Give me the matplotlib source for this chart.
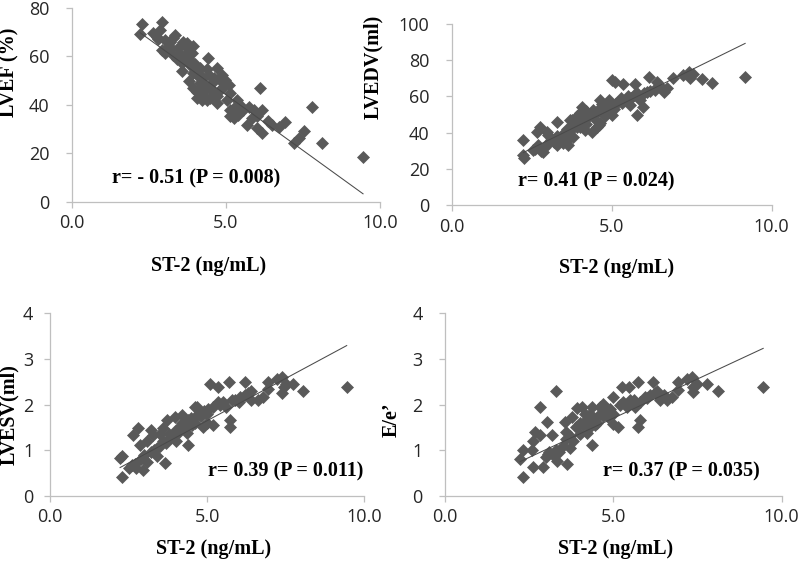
import numpy as np
import matplotlib.pyplot as plt

# ST-2 vs echo parameters
ef_x = [2.27, 2.22, 2.87, 2.92, 2.65, 2.76, 2.92, 3.03, 3.03, 3.08, 3.14, 3.19, 3.3, 3.3, 3.36, 3.41,
        3.46, 3.57, 3.57, 3.62, 3.68, 3.68, 3.73, 3.79, 3.84, 3.9, 3.95, 3.95, 3.95, 4.06, 4.06, 4.11,
        4.17, 4.17, 4.22, 4.22, 4.27, 4.33, 4.38, 4.38, 4.43, 4.44, 4.49, 4.55, 4.6, 4.6, 4.71, 4.71,
        4.71, 4.82, 4.82, 4.87, 4.92, 4.98, 5.03, 5.09, 5.14, 5.14, 5.14, 5.25, 5.3, 5.36, 5.36, 5.41,
        5.46, 5.57, 5.68, 5.74, 5.85, 5.9, 6.0, 6.0, 6.11, 6.17, 6.17, 6.38, 6.49, 6.71, 6.93, 7.2,
        7.36, 7.52, 7.79, 8.12, 9.45, 3.5, 3.6, 3.8, 4.0, 4.1, 4.3, 4.5, 3.85, 3.2, 2.8]
ef_y = [73.3, 69.2, 71, 74.4, 69.6, 68.2, 62.7, 61.3, 66.8, 62.7, 64.1, 66.1, 67.5, 60.4, 69, 59,
        63.4, 57.2, 54, 66.1, 64.1, 60.6, 65.5, 49.8, 56.6, 61.3, 64.1, 53.2, 47.1, 45.5, 42.7, 51.8,
        55.3, 49, 42, 44.4, 51.1, 46.2, 54.6, 42, 59.2, 52.3, 43, 49, 45.1, 51.1, 55.1, 43.7,
        40.7, 50.3, 46.2, 52.3, 47.5, 50.3, 42, 48.2, 44.7, 38, 35.2, 34.6, 39.3, 42, 36.6, 35.9,
        40, 37.9, 31.7, 39.3, 34.6, 38, 30.5, 35.2, 47.1, 37.9, 28.3, 33.5, 31.7, 31, 33, 24.1,
        26.4, 29.2, 39.3, 24.1, 18.3, 61, 58, 59, 57, 53, 48, 47, 62, 63, 67]

edv_x = [2.24, 2.26, 2.24, 2.55, 2.66, 2.76, 2.86, 2.97, 3.02, 3.28, 3.49, 3.64, 3.49, 3.7, 3.75, 3.8,
         3.91, 4.01, 4.06, 4.17, 4.27, 4.38, 4.43, 4.53, 4.64, 4.64, 4.85, 4.9, 5.06, 5.0, 5.1, 5.36,
         5.73, 6.18, 6.41, 5.31, 5.57, 5.78, 5.78, 5.89, 5.99, 6.1, 6.36, 6.62, 6.72, 6.93, 7.24, 7.4,
         7.45, 7.55, 7.81, 8.12, 9.17, 2.6, 2.7, 2.8, 2.9, 3.0, 3.1, 3.2, 3.3, 3.4, 3.5, 3.6, 3.7,
         3.8, 3.9, 4.0, 4.0, 4.1, 4.2, 4.2, 4.3, 4.4, 4.5, 4.5, 4.6, 4.7, 4.7, 4.8, 4.9, 5.0, 5.1,
         5.2, 5.3, 5.4, 5.5, 5.6, 5.7, 5.8, 6.0, 6.2, 6.4, 6.6, 3.3, 3.6, 4.2, 4.0, 3.9, 4.6, 5.0]
edv_y = [27.6, 26, 35.9, 30.5, 40.5, 43.3, 29.4, 40.5, 38.7, 46, 34, 33, 38.7, 46.9, 47, 37.8,
         43.3, 50.6, 54.3, 41.4, 48.8, 40.5, 52.4, 43, 45.1, 58, 52.4, 58, 53.3, 69, 68, 67,
         67, 70.5, 68.1, 56.2, 55.3, 50, 61.7, 58, 54.3, 62.6, 63.5, 62.6, 64.4, 70, 71.8, 73.7,
         70, 72.4, 69.6, 67.6, 70.5, 31, 33, 30, 32, 34, 36, 35, 38, 37, 40, 42, 41,
         44, 45, 46, 43, 47, 48, 45, 50, 49, 51, 47, 53, 52, 56, 49, 55, 54, 56,
         57, 59, 58, 60, 59, 61, 60, 62, 63, 65, 64, 33, 36, 52, 51, 49, 44, 50]

esv_x = [2.28, 2.23, 2.28, 2.65, 2.81, 2.6, 2.75, 2.97, 2.86, 3.08, 3.29, 3.4, 3.66, 3.61, 3.71, 3.82,
         3.98, 4.14, 4.19, 4.35, 4.4, 4.51, 4.67, 4.77, 4.88, 5.04, 5.09, 5.36, 5.2, 5.36, 5.73, 5.73,
         5.7, 5.89, 6.04, 6.2, 6.3, 6.41, 6.62, 6.78, 6.94, 6.94, 7.21, 7.37, 7.43, 7.37, 7.52, 7.73,
         8.06, 9.44, 2.9, 3.0, 3.1, 3.2, 3.3, 3.4, 3.5, 3.6, 3.7, 3.8, 3.9, 4.0, 4.1, 4.2, 4.3,
         4.4, 4.5, 4.6, 4.7, 4.8, 4.9, 5.0, 5.2, 5.4, 5.5, 5.6, 5.8, 6.0, 6.2, 6.4, 3.2, 2.5, 2.7,
         3.5, 4.0, 4.6, 5.0]
esv_y = [0.42, 0.82, 0.87, 1.33, 1.48, 0.67, 0.6, 0.56, 1.11, 1.2, 1.33, 0.86, 0.71, 1.48, 1.66, 1.26,
         1.73, 1.51, 1.77, 1.37, 1.11, 1.55, 1.95, 1.77, 1.51, 1.91, 2.46, 2.39, 1.55, 2.06, 1.51, 1.66,
         2.5, 2.1, 2.17, 2.5, 2.25, 2.1, 2.1, 2.17, 2.35, 2.5, 2.57, 2.61, 2.39, 2.25, 2.46, 2.46,
         2.3, 2.39, 0.8, 0.9, 0.75, 0.95, 1.0, 1.05, 1.1, 1.2, 1.15, 1.35, 1.3, 1.45, 1.4, 1.6, 1.5,
         1.65, 1.7, 1.6, 1.8, 1.75, 1.85, 1.8, 1.95, 2.0, 2.05, 1.95, 2.1, 2.05, 2.2, 2.3, 1.45, 0.6, 0.7,
         1.35, 1.2, 1.95, 1.6]

ee_x = [2.33, 2.23, 2.33, 2.62, 2.57, 2.62, 2.67, 2.82, 2.82, 3.02, 3.17, 3.3, 3.07, 3.32, 2.92, 3.61,
        3.71, 3.56, 3.76, 3.91, 4.06, 4.16, 4.36, 4.21, 4.36, 4.46, 4.6, 4.7, 4.85, 5.0, 5.15, 5.0,
        5.25, 5.45, 5.74, 5.74, 5.79, 5.5, 5.64, 5.94, 6.19, 6.24, 6.39, 6.59, 6.73, 6.93, 6.93, 7.18,
        7.33, 7.38, 7.38, 7.48, 7.77, 8.12, 9.45, 3.0, 3.1, 3.2, 3.3, 3.4, 3.5, 3.6, 3.7, 3.8, 3.9,
        4.0, 4.1, 4.2, 4.3, 4.4, 4.5, 4.6, 4.7, 4.8, 4.9, 5.0, 5.2, 5.3, 5.4, 5.6, 5.8, 6.0, 6.1,
        6.3, 6.5, 4.0, 4.3, 3.6]
ee_y = [0.42, 0.8, 1.0, 0.62, 1.0, 1.2, 1.4, 1.94, 1.33, 1.61, 1.33, 2.3, 0.91, 0.77, 0.63, 0.7,
        1.04, 1.62, 1.73, 1.92, 1.95, 1.8, 1.95, 1.37, 1.11, 1.55, 1.95, 2.02, 1.73, 1.58, 1.51, 2.17,
        2.39, 2.39, 2.5, 1.51, 1.66, 2.1, 1.95, 2.17, 2.5, 2.25, 2.1, 2.1, 2.17, 2.32, 2.5, 2.57,
        2.61, 2.39, 2.28, 2.46, 2.46, 2.3, 2.39, 0.85, 0.95, 0.9, 1.0, 0.95, 1.1, 1.25, 1.3, 1.2, 1.5,
        1.6, 1.55, 1.65, 1.5, 1.7, 1.6, 1.8, 1.75, 1.85, 1.9, 1.8, 2.0, 2.05, 1.95, 2.1, 2.05, 2.15, 2.2,
        2.3, 2.2, 1.35, 1.8, 1.4]

# trend lines (slope, intercept) as drawn in the figure
trend = [(-9.2, 90.2), (8.7, 9.5), (0.371, -0.21), (0.344, -0.02)]
ylabels = ["LVEF (%)", "LVEDV(ml)", "LVESV(ml)", "E/e\u2019"]
notes = ["r= - 0.51 (P = 0.008)", "r= 0.41 (P = 0.024)", "r= 0.39 (P = 0.011)", "r= 0.37 (P = 0.035)"]
yticks = [[0, 20, 40, 60, 80], [0, 20, 40, 60, 80, 100], [0, 1, 2, 3, 4], [0, 1, 2, 3, 4]]
xticks = [0, 5, 10]

W, H = 800, 570
# plot areas in pixels: left, right, top, bottom
boxes = [(71.7, 380, 8, 201.7), (451.7, 771.7, 24, 205), (50, 364.3, 313.3, 495.7), (445, 781.7, 313.3, 495.7)]
note_pos = [(1.31, 9.4), (2.08, 12.9), (5.04, 0.53), (4.7, 0.53)]
ylab_pos = [(9, 72), (373, 67), (9, 415), (392, 420)]
xlab_pos = [(209, 266), (617, 268), (214, 549), (616, 549)]
ypads = [12, 12, 8, 12]

serif = "Liberation Serif"
fig = plt.figure(figsize=(8, 5.7), dpi=100)

data = [(ef_x, ef_y), (edv_x, edv_y), (esv_x, esv_y), (ee_x, ee_y)]
for i, (xs, ys) in enumerate(data):
    l, r, t, b = boxes[i]
    ax = fig.add_axes([l / W, 1 - b / H, (r - l) / W, (b - t) / H])
    ax.plot(xs, ys, linestyle="none", marker="D", ms=6.4, color="#595959", mec="#595959", mew=0.5)
    xx = np.array([min(xs), max(xs)])
    m, c = trend[i]
    ax.plot(xx, m * xx + c, color="#4a4a4a", lw=0.75, zorder=3)
    ax.set_xlim(0, 10)
    ax.set_ylim(yticks[i][0], yticks[i][-1])
    ax.set_xticks(xticks)
    ax.set_xticklabels(["%.1f" % v for v in xticks])
    ax.set_yticks(yticks[i])
    for s in ["top", "right"]:
        ax.spines[s].set_visible(False)
    for s in ["left", "bottom"]:
        ax.spines[s].set_color("#bfbfbf")
        ax.spines[s].set_linewidth(0.9)
    ax.tick_params(axis="both", colors="#bfbfbf", labelcolor="#262626", length=4, width=0.9,
                   labelsize=13, pad=5)
    ax.tick_params(axis="y", pad=ypads[i])
    for lab in ax.get_xticklabels() + ax.get_yticklabels():
        lab.set_family("Open Sans")
    ax.patch.set_alpha(0)
    nx, ny = note_pos[i]
    ax.text(nx, ny, notes[i], family=serif, weight="bold", fontsize=14.5, va="center", ha="left")
    px, py = ylab_pos[i]
    fig.text(px / W, 1 - py / H, ylabels[i], family=serif, weight="bold", fontsize=14.5,
             rotation=90, ha="center", va="center")
    px, py = xlab_pos[i]
    fig.text(px / W, 1 - py / H, "ST-2 (ng/mL)", family=serif, weight="bold", fontsize=14.5,
             ha="center", va="center")

fig.savefig("out.png", dpi=100)
